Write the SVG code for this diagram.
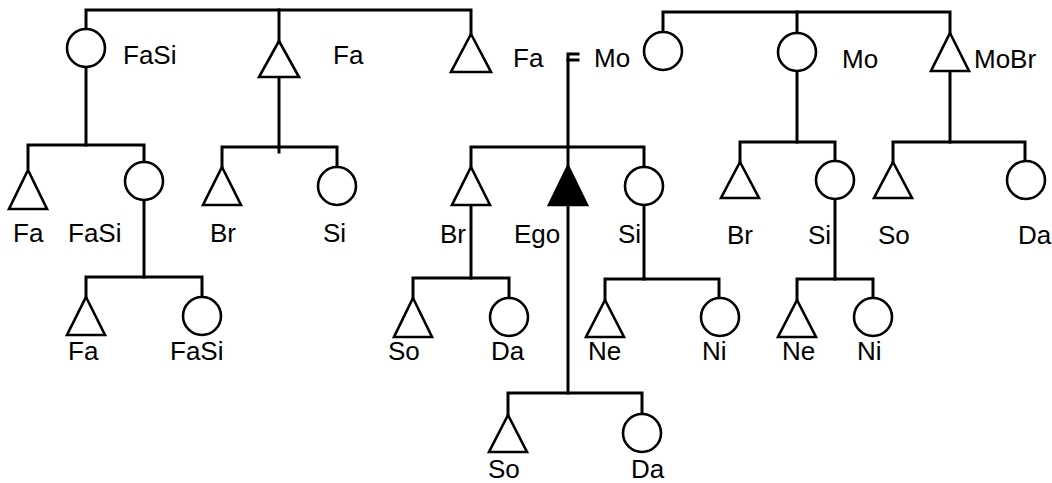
<svg xmlns="http://www.w3.org/2000/svg" width="1052" height="483" viewBox="0 0 1052 483">
<style>
.l{fill:none;stroke:#000;stroke-width:3;stroke-linecap:square}
.s{fill:#fff;stroke:#000;stroke-width:2.6}
.f{fill:#000;stroke:#000;stroke-width:2.6}
text{font-family:"Liberation Sans",Arial,sans-serif;font-size:26px;fill:#000}
</style>
<rect width="1052" height="483" fill="#fff"/>
<g id="connectors" class="l">
<path d="M86 29V10H471V33"/>
<path d="M279 10V41"/>
<path d="M663 32V12H950V33"/>
<path d="M797 12V33"/>
<path d="M86 67V145"/>
<path d="M28 168V145H144V163"/>
<path d="M279 77V152"/>
<path d="M222 167V147H337V167"/>
<path d="M144 200V277"/>
<path d="M86 297V277H202V297"/>
<path d="M578 54H568V147"/>
<path d="M568 60H578"/>
<path d="M471 166V147H644V167"/>
<path d="M568 147V165"/>
<path d="M471 205V278"/>
<path d="M413 298V278H509V298"/>
<path d="M568 206V393"/>
<path d="M508 415V393H642V414"/>
<path d="M644 205V279"/>
<path d="M605 300V279H719V298"/>
<path d="M797 71V142"/>
<path d="M740 162V142H835V161"/>
<path d="M950 71V142"/>
<path d="M893 162V142H1025V161"/>
<path d="M835 199V279"/>
<path d="M797 300V279H873V298"/>
</g>
<g id="fasi"><circle class="s" cx="86" cy="48" r="19"/><text x="123" y="64">FaSi</text></g>
<g id="fa1"><polygon class="s" points="279,41 299,77 259,77"/><text x="333" y="64">Fa</text></g>
<g id="fa2"><polygon class="s" points="471,34 491,72 451,72"/><text x="513" y="67">Fa</text></g>
<text x="594" y="67">Mo</text>
<g id="mo1"><circle class="s" cx="663" cy="51" r="19"/></g>
<g id="mo2"><circle class="s" cx="797" cy="52" r="19"/><text x="842" y="68">Mo</text></g>
<g id="mobr"><polygon class="s" points="950,33 969,71 931,71"/><text x="974" y="68">MoBr</text></g>
<g id="fasi-fa"><polygon class="s" points="28,170 47,209 9,209"/><text x="13" y="242">Fa</text></g>
<g id="fasi-fasi"><circle class="s" cx="144" cy="181" r="19"/><text x="68" y="242">FaSi</text></g>
<g id="fa-br"><polygon class="s" points="222,167 241,205 203,205"/><text x="210" y="242">Br</text></g>
<g id="fa-si"><circle class="s" cx="337" cy="186" r="19"/><text x="323" y="242">Si</text></g>
<g id="gfa"><polygon class="s" points="86,297 105,335 67,335"/><text x="68" y="360">Fa</text></g>
<g id="gfasi"><circle class="s" cx="202" cy="316" r="19"/><text x="170" y="360">FaSi</text></g>
<g id="br"><polygon class="s" points="471,167 490,205 452,205"/><text x="440" y="243">Br</text></g>
<g id="ego"><polygon class="f" points="568,166 587,205 549,205"/><text x="514" y="243">Ego</text></g>
<g id="si"><circle class="s" cx="644" cy="186" r="19"/><text x="618" y="243">Si</text></g>
<g id="br-so"><polygon class="s" points="413,298 432,337 394,337"/><text x="388" y="360">So</text></g>
<g id="br-da"><circle class="s" cx="509" cy="317" r="19"/><text x="491" y="360">Da</text></g>
<g id="si-ne"><polygon class="s" points="605,300 624,337 586,337"/><text x="588" y="360">Ne</text></g>
<g id="si-ni"><circle class="s" cx="720" cy="317" r="19"/><text x="702" y="360">Ni</text></g>
<g id="ego-so"><polygon class="s" points="508,415 527,452 489,452"/><text x="488" y="478">So</text></g>
<g id="ego-da"><circle class="s" cx="642" cy="433" r="19"/><text x="631" y="478">Da</text></g>
<g id="mo-br"><polygon class="s" points="740,162 759,198 721,198"/><text x="727" y="244">Br</text></g>
<g id="mo-si"><circle class="s" cx="835" cy="180" r="19"/><text x="808" y="244">Si</text></g>
<g id="mobr-so"><polygon class="s" points="893,162 912,198 874,198"/><text x="878" y="244">So</text></g>
<g id="mobr-da"><circle class="s" cx="1026" cy="180" r="19"/><text x="1018" y="244">Da</text></g>
<g id="mosi-ne"><polygon class="s" points="797,300 816,337 778,337"/><text x="782" y="360">Ne</text></g>
<g id="mosi-ni"><circle class="s" cx="873" cy="317" r="19"/><text x="857" y="360">Ni</text></g>
</svg>
